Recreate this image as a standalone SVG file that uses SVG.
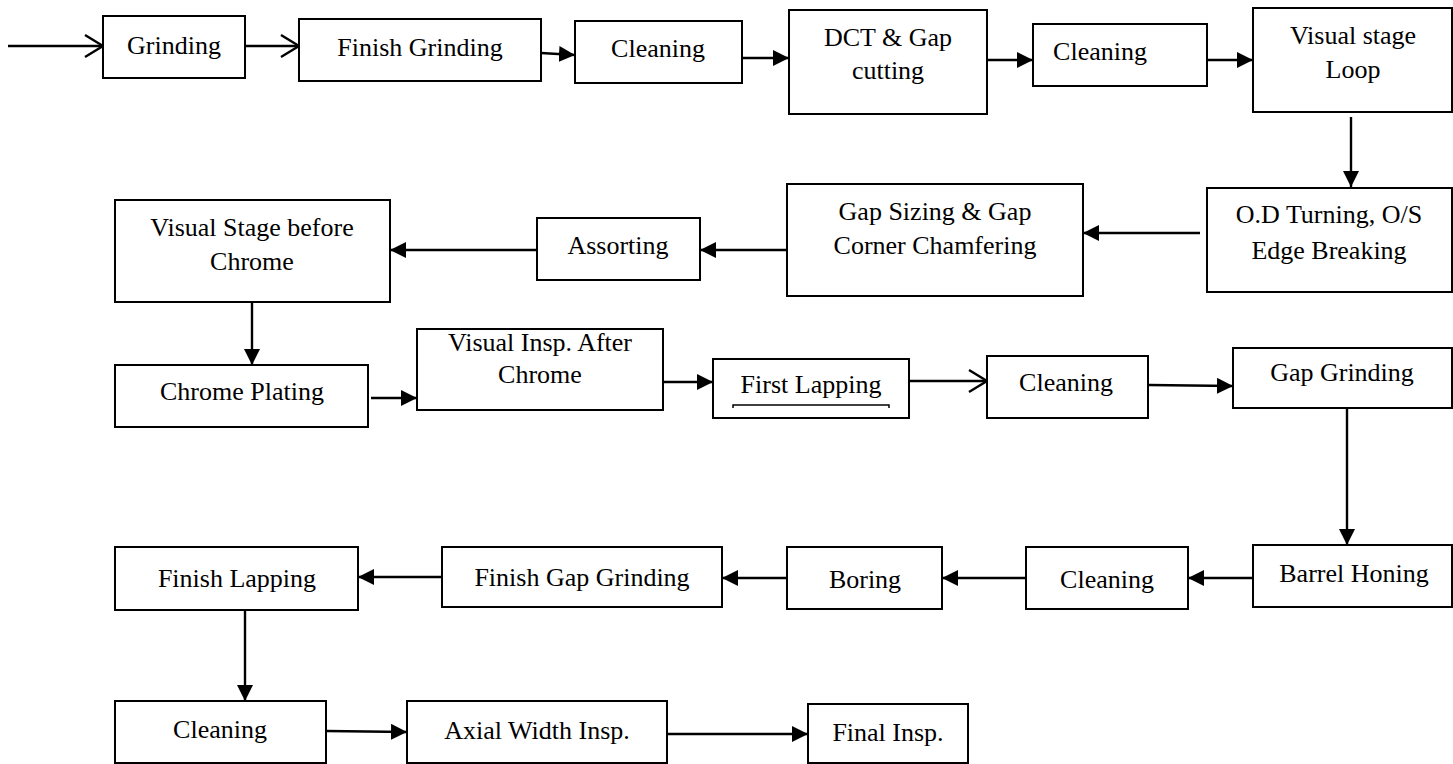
<svg xmlns="http://www.w3.org/2000/svg" width="1453" height="764" viewBox="0 0 1453 764">
<defs>
<marker id="fa" markerUnits="userSpaceOnUse" markerWidth="18" markerHeight="16" refX="16" refY="8" orient="auto">
<path d="M0,0 L16,8 L0,16 Z" fill="#000"/>
</marker>
<marker id="oa" markerUnits="userSpaceOnUse" markerWidth="22" markerHeight="26" refX="19" refY="12" orient="auto">
<path d="M1,1 L19,12 L1,23" fill="none" stroke="#000" stroke-width="2.4"/>
</marker>
</defs>
<style>
rect{fill:#fff;stroke:#000;stroke-width:2}
text{font-family:"Liberation Serif","Times New Roman",serif;font-size:26px;fill:#000;text-anchor:middle}
.c line{stroke:#000;stroke-width:2.4}
.f{marker-end:url(#fa)}
.o{marker-end:url(#oa)}
</style>
<rect x="0" y="0" width="1453" height="764" style="stroke:none"/>
<g class="c" id="connectors">
<line class="o" x1="8" y1="46" x2="103" y2="46"/>
<line class="o" x1="245" y1="46" x2="299" y2="46"/>
<line class="f" x1="541" y1="53" x2="575" y2="55"/>
<line class="f" x1="742" y1="58" x2="789" y2="58"/>
<line class="f" x1="987" y1="60" x2="1033" y2="60"/>
<line class="f" x1="1207" y1="60" x2="1253" y2="60"/>
<line class="f" x1="1351" y1="117" x2="1351" y2="187"/>
<line class="f" x1="1200" y1="233" x2="1083" y2="233"/>
<line class="f" x1="787" y1="250" x2="700" y2="250"/>
<line class="f" x1="537" y1="250" x2="390" y2="250"/>
<line class="f" x1="252" y1="302" x2="252" y2="365"/>
<line class="f" x1="371" y1="398" x2="417" y2="398"/>
<line class="f" x1="663" y1="382" x2="713" y2="382"/>
<line class="o" x1="909" y1="381" x2="987" y2="381"/>
<line class="f" x1="1149" y1="385" x2="1233" y2="386"/>
<line class="f" x1="1347" y1="408" x2="1347" y2="545"/>
<line class="f" x1="1253" y1="578" x2="1188" y2="578"/>
<line class="f" x1="1026" y1="578" x2="942" y2="578"/>
<line class="f" x1="787" y1="578" x2="722" y2="578"/>
<line class="f" x1="442" y1="577" x2="358" y2="577"/>
<line class="f" x1="245" y1="610" x2="245" y2="701"/>
<line class="f" x1="326" y1="731" x2="407" y2="732"/>
<line class="f" x1="667" y1="734" x2="808" y2="734"/>
</g>
<g id="n1"><rect x="103" y="16" width="142" height="62"/><text x="174" y="54">Grinding</text></g>
<g id="n2"><rect x="299" y="19" width="242" height="62"/><text x="420" y="56">Finish Grinding</text></g>
<g id="n3"><rect x="575" y="21" width="167" height="62"/><text x="658" y="57">Cleaning</text></g>
<g id="n4"><rect x="789" y="10" width="198" height="104"/><text x="888" y="46">DCT &amp; Gap</text><text x="888" y="79">cutting</text></g>
<g id="n5"><rect x="1033" y="24" width="174" height="62"/><text x="1100" y="60">Cleaning</text></g>
<g id="n6"><rect x="1253" y="8" width="199" height="104"/><text x="1353" y="44">Visual stage</text><text x="1353" y="78">Loop</text></g>
<g id="n7"><rect x="1207" y="188" width="245" height="104"/><text x="1329" y="223">O.D Turning, O/S</text><text x="1329" y="259">Edge Breaking</text></g>
<g id="n8"><rect x="787" y="184" width="296" height="112"/><text x="935" y="220">Gap Sizing &amp; Gap</text><text x="935" y="254">Corner Chamfering</text></g>
<g id="n9"><rect x="537" y="218" width="163" height="62"/><text x="618" y="254">Assorting</text></g>
<g id="n10"><rect x="115" y="200" width="275" height="102"/><text x="252" y="236">Visual Stage before</text><text x="252" y="270">Chrome</text></g>
<g id="n11"><rect x="115" y="365" width="253" height="62"/><text x="242" y="400">Chrome Plating</text></g>
<g id="n12"><rect x="417" y="329" width="246" height="81"/><text x="540" y="351">Visual Insp. After</text><text x="540" y="383">Chrome</text></g>
<g id="n13"><rect x="713" y="359" width="196" height="59"/><text x="811" y="393">First Lapping</text><path d="M733,408 V405 H889 V408" fill="none" stroke="#000" stroke-width="1.5"/></g>
<g id="n14"><rect x="987" y="356" width="161" height="62"/><text x="1066" y="391">Cleaning</text></g>
<g id="n15"><rect x="1233" y="348" width="219" height="60"/><text x="1342" y="381">Gap Grinding</text></g>
<g id="n16"><rect x="1253" y="545" width="199" height="62"/><text x="1354" y="582">Barrel Honing</text></g>
<g id="n17"><rect x="1026" y="547" width="162" height="62"/><text x="1107" y="588">Cleaning</text></g>
<g id="n18"><rect x="787" y="547" width="155" height="62"/><text x="865" y="588">Boring</text></g>
<g id="n19"><rect x="442" y="547" width="280" height="60"/><text x="582" y="586">Finish Gap Grinding</text></g>
<g id="n20"><rect x="115" y="547" width="243" height="63"/><text x="237" y="587">Finish Lapping</text></g>
<g id="n21"><rect x="115" y="701" width="211" height="62"/><text x="220" y="738">Cleaning</text></g>
<g id="n22"><rect x="407" y="701" width="260" height="62"/><text x="537" y="739">Axial Width Insp.</text></g>
<g id="n23"><rect x="808" y="704" width="160" height="59"/><text x="888" y="741">Final Insp.</text></g>
</svg>
